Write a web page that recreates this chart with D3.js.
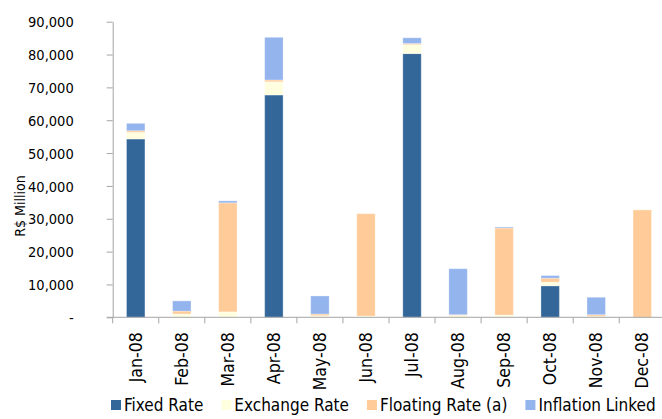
<!DOCTYPE html>
<html>
<head>
<meta charset="utf-8">
<script src="https://cdn.jsdelivr.net/npm/d3@7/dist/d3.min.js"></script>
<style>
  html, body { margin: 0; padding: 0; background: #fff; }
  svg { display: block; }
  text { font-family: "DejaVu Sans Condensed", "DejaVu Sans", sans-serif; font-stretch: condensed; fill: #000; }
</style>
</head>
<body>
<svg id="chart" width="662" height="419"></svg>
<script>
// Monthly issuance, R$ million, split by indexer
const months = ["Jan-08", "Feb-08", "Mar-08", "Apr-08", "May-08", "Jun-08",
                "Jul-08", "Aug-08", "Sep-08", "Oct-08", "Nov-08", "Dec-08"];
const fixedRate       = [54300,    0,     0, 67700,    0,     0, 80300,     0,     0, 9600,    0,     0];
const exchangeRate    = [ 2000, 1000,  1650,  4000,  500,   400,  2700,   600,   700, 1100,  300,     0];
const floatingRate    = [  500,  900, 33200,   550,  500, 31150,   350,   200, 26500, 1200,  500, 32700];
const inflationLinked = [ 2250, 3100,   600, 13000, 5500,     0,  1750, 14000,   300,  800, 5300,     0];
const seriesNames = ["Fixed Rate", "Exchange Rate", "Floating Rate (a)", "Inflation Linked"];
const yTicks = [0, 10000, 20000, 30000, 40000, 50000, 60000, 70000, 80000, 90000];

const colors = ["#336699", "#FFFFE0", "#FFCC99", "#94B4EE"];
const seriesValues = [fixedRate, exchangeRate, floatingRate, inflationLinked];

const rows = months.map((m, i) => {
  const r = { month: m };
  seriesNames.forEach((s, k) => { r[s] = seriesValues[k][i]; });
  return r;
});

const svg = d3.select("#chart");
const plotLeft = 112.7, plotRight = 665.3, plotTop = 21.7, plotBottom = 317.3;

const x = d3.scaleBand().domain(months).range([plotLeft, plotRight])
  .paddingInner(0.6).paddingOuter(0.3);
const y = d3.scaleLinear().domain([0, 90000]).range([plotBottom, plotTop]);

const layers = d3.stack().keys(seriesNames)(rows);

// bars
svg.append("g").selectAll("g").data(layers).join("g")
  .attr("fill", (d, i) => colors[i])
  .selectAll("rect").data(d => d.filter(p => p[1] > p[0])).join("rect")
  .attr("x", d => x(d.data.month))
  .attr("width", x.bandwidth())
  .attr("y", d => y(d[1]))
  .attr("height", d => y(d[0]) - y(d[1]))
  .attr("stroke", "#fff").attr("stroke-opacity", 0.3).attr("stroke-width", 1);

const axisColor = "#A6A6A6";

// y axis
const yAxis = d3.axisLeft(y).tickValues(yTicks).tickSize(6).tickSizeOuter(0)
  .tickFormat(d => d === 0 ? "-" : d3.format(",")(d));
const gy = svg.append("g").attr("transform", `translate(${plotLeft},0)`).call(yAxis);
gy.select(".domain").attr("stroke", axisColor);
gy.selectAll(".tick line").attr("stroke", axisColor);
gy.selectAll(".tick text")
  .attr("x", -39).attr("dy", "0.35em")
  .style("font-size", "14.5px");

// x axis: ticks between categories
const step = x.step();
const boundaries = d3.range(months.length + 1).map(i => plotLeft + i * step);
const gx = svg.append("g");
gx.append("line").attr("x1", plotLeft - 6).attr("x2", 662).attr("y1", plotBottom).attr("y2", plotBottom)
  .attr("stroke", axisColor);
gx.selectAll("line.tk").data(boundaries).join("line").attr("class", "tk")
  .attr("x1", d => d).attr("x2", d => d).attr("y1", plotBottom).attr("y2", plotBottom + 6)
  .attr("stroke", axisColor);
gx.selectAll("text").data(months).join("text")
  .attr("transform", d => `translate(${x(d) + x.bandwidth() / 2},${plotBottom + 15}) rotate(-90)`)
  .attr("text-anchor", "end").attr("dy", "0.35em")
  .style("font-size", "17.5px")
  .text(d => d);

// y title
svg.append("text")
  .attr("transform", "translate(20,206) rotate(-90)")
  .attr("text-anchor", "middle").attr("dy", "0.35em")
  .style("font-size", "14px")
  .text("R$ Million");

// legend
const lg = svg.append("g").attr("transform", "translate(111,405)");
let cx = 0;
seriesNames.forEach((s, i) => {
  const item = lg.append("g").attr("transform", `translate(${cx},0)`);
  item.append("rect").attr("x", 0).attr("y", -5).attr("width", 10).attr("height", 10)
    .attr("fill", colors[i]);
  const t = item.append("text").attr("x", 13).attr("dy", "0.35em")
    .style("font-size", "17px").text(s);
  cx += 13 + t.node().getComputedTextLength() + 18;
});
</script>
</body>
</html>
